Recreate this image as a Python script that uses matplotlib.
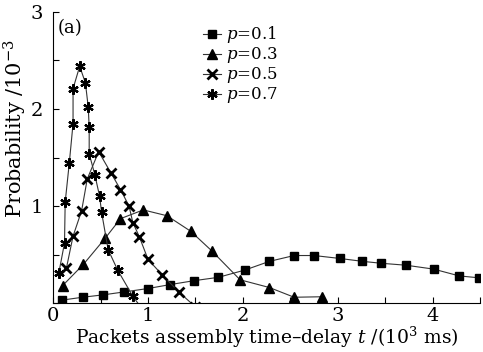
import matplotlib
matplotlib.use("Agg")
import matplotlib.pyplot as plt
from matplotlib.ticker import MultipleLocator, FixedFormatter, FixedLocator

plt.rcParams["font.family"] = ["DejaVu Serif"]
plt.rcParams["mathtext.fontset"] = "dejavuserif"

# p = 0.1 (squares)
t_p1 = [0.09, 0.31, 0.53, 0.75, 1.00, 1.23, 1.48, 1.74, 2.02, 2.28, 2.54, 2.75,
        3.02, 3.26, 3.46, 3.72, 4.01, 4.28, 4.49]
prob_p1 = [0.03, 0.06, 0.085, 0.115, 0.15, 0.19, 0.23, 0.265, 0.34, 0.43, 0.49, 0.49,
           0.46, 0.43, 0.41, 0.39, 0.35, 0.28, 0.26]

# p = 0.3 (triangles)
t_p3 = [0.10, 0.32, 0.55, 0.71, 0.95, 1.20, 1.45, 1.67, 1.97, 2.28, 2.54, 2.83]
prob_p3 = [0.18, 0.40, 0.67, 0.87, 0.96, 0.90, 0.74, 0.54, 0.24, 0.16, 0.06, 0.065]

# p = 0.5 (crosses)
t_p5 = [0.14, 0.21, 0.30, 0.36, 0.48, 0.61, 0.71, 0.80, 0.84, 0.91, 1.00, 1.15, 1.33, 1.50]
prob_p5 = [0.36, 0.69, 0.95, 1.28, 1.56, 1.34, 1.17, 1.00, 0.83, 0.68, 0.45, 0.29, 0.11, -0.04]

# p = 0.7 (asterisks)
t_p7 = [0.06, 0.12, 0.127, 0.17, 0.21, 0.21, 0.28, 0.34, 0.37, 0.38, 0.38, 0.44,
        0.49, 0.51, 0.58, 0.68, 0.84, 0.93]
prob_p7 = [0.31, 0.62, 1.04, 1.44, 1.85, 2.21, 2.44, 2.27, 2.02, 1.81, 1.54, 1.32,
           1.10, 0.94, 0.55, 0.34, 0.07, -0.05]

labels = ["$p$=0.1", "$p$=0.3", "$p$=0.5", "$p$=0.7"]

fig = plt.figure(figsize=(4.83, 3.52), dpi=100)
ax = fig.add_axes([0.110, 0.139, 0.884, 0.827])

lc = "#333333"
ax.plot(t_p1, prob_p1, color=lc, lw=0.8, marker="s", ms=5.5, mfc="black", mec="black", label=labels[0])
ax.plot(t_p3, prob_p3, color=lc, lw=0.8, marker="^", ms=6.5, mfc="black", mec="black", label=labels[1])
ax.plot(t_p5, prob_p5, color=lc, lw=0.8, marker="x", ms=6.5, mew=2.0, mec="black", label=labels[2])
ax.plot(t_p7, prob_p7, color=lc, lw=0.8, marker=(6, 2, 0), ms=7.5, mew=1.6, mec="black", label=labels[3])

ax.set_xlim(0, 4.5)
ax.set_ylim(0, 3)
ax.xaxis.set_major_locator(MultipleLocator(1))
ax.xaxis.set_minor_locator(MultipleLocator(0.5))
ax.yaxis.set_major_locator(FixedLocator([1, 2, 3]))
ax.yaxis.set_minor_locator(MultipleLocator(0.5))
ax.yaxis.set_major_formatter(FixedFormatter(["1", "2", "3"]))
ax.tick_params(which="both", direction="in", length=4, width=0.8, labelsize=14)
ax.tick_params(axis="y", pad=7)
ax.tick_params(axis="x", pad=3)

for side in ["top", "right"]:
    ax.spines[side].set_visible(False)

ax.set_xlabel("Packets assembly time\u2013delay $t$ /(10$^3$ ms)", fontsize=13.5, labelpad=0)
ax.set_ylabel("Probability /10$^{-3}$", fontsize=15)
ax.yaxis.set_label_coords(-0.057, 0.6)

ax.text(0.05, 2.83, "(a)", fontsize=13, va="center")

leg = ax.legend(loc="upper left", bbox_to_anchor=(0.335, 0.98), frameon=False,
                fontsize=12, handlelength=1.1, handletextpad=0.3,
                labelspacing=0.0, borderaxespad=0)

fig.savefig("out.png", dpi=100)
